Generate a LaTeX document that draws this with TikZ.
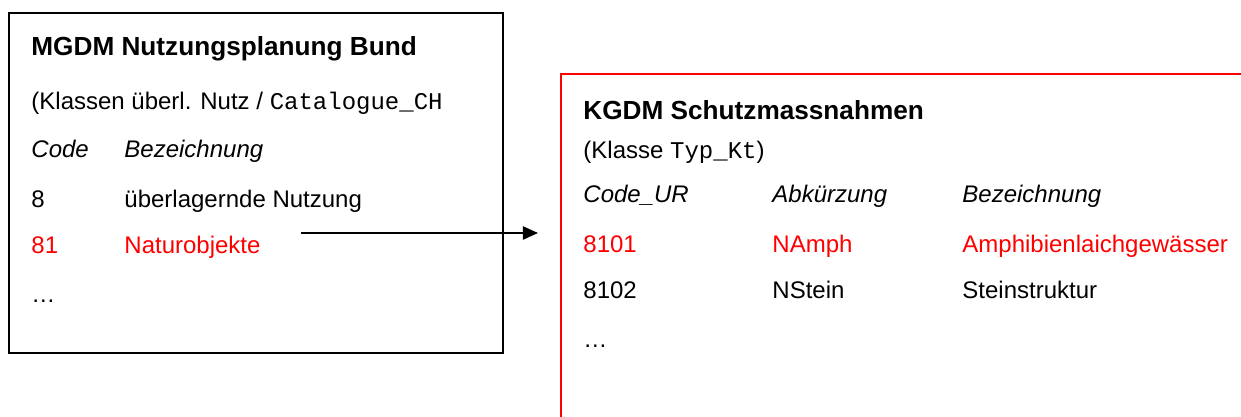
\documentclass[tikz,border=0pt]{standalone}
\usepackage{fontspec}
\setmainfont{Liberation Sans}
\setmonofont{Liberation Mono}
\usetikzlibrary{arrows.meta}
\definecolor{hlred}{RGB}{255,0,0}
\begin{document}
\begin{tikzpicture}[x=0.4583pt,y=-0.4583pt,
  txt/.style={anchor=base west, inner sep=0pt, font=\fontsize{11pt}{13pt}\selectfont},
  ttl/.style={anchor=base west, inner sep=0pt, font=\fontsize{12pt}{14pt}\selectfont\bfseries},
  hl/.style={text=hlred},
  hdr/.style={txt, font=\fontsize{11pt}{13pt}\selectfont\itshape},
  boxline/.style={line width=0.9pt},
  link/.style={line width=0.9pt, -{Triangle[length=6.9pt,width=6pt]}}]
\useasboundingbox (0,0) rectangle (1241,416);
\clip (0,0) rectangle (1241,416);
% left box
\draw[boxline] (9,13) rectangle (503,353);
\node[ttl] (ltitle) at (31,55) {MGDM Nutzungsplanung Bund};
\node[txt] (lclass) at (31,109) {(Klassen überl. Nutz / \texttt{Catalogue\_CH}};
\node[hdr] (lcode) at (31,157) {Code};
\node[hdr] (lbez) at (124,157) {Bezeichnung};
\node[txt] (l8) at (31,207) {8};
\node[txt] (l8t) at (124,207) {überlagernde Nutzung};
\node[txt,hl] (l81) at (31,253) {81};
\node[txt,hl] (l81t) at (124,253) {Naturobjekte};
\node[txt] (ldots) at (31,302) {…};
% right box
\draw[boxline, hlred] (561,74) rectangle (1270,440);
\node[ttl] (rtitle) at (583,119) {KGDM Schutzmassnahmen};
\node[txt] (rclass) at (583,158) {(Klasse \texttt{Typ\_Kt})};
\node[hdr] (rcode) at (583,202) {Code\_UR};
\node[hdr] (rabk) at (772,202) {Abkürzung};
\node[hdr] (rbez) at (962,202) {Bezeichnung};
\node[txt,hl] (r1c) at (583,252) {8101};
\node[txt,hl] (r1a) at (772,252) {NAmph};
\node[txt,hl] (r1b) at (962,252) {Amphibienlaichgewässer};
\node[txt] (r2c) at (583,298) {8102};
\node[txt] (r2a) at (772,298) {NStein};
\node[txt] (r2b) at (962,298) {Steinstruktur};
\node[txt] (rdots) at (583,347) {…};
% connector
\coordinate (astart) at (301,233);
\coordinate (aend) at (538,233);
\draw[link] (astart) -- (aend);
\end{tikzpicture}
\end{document}
